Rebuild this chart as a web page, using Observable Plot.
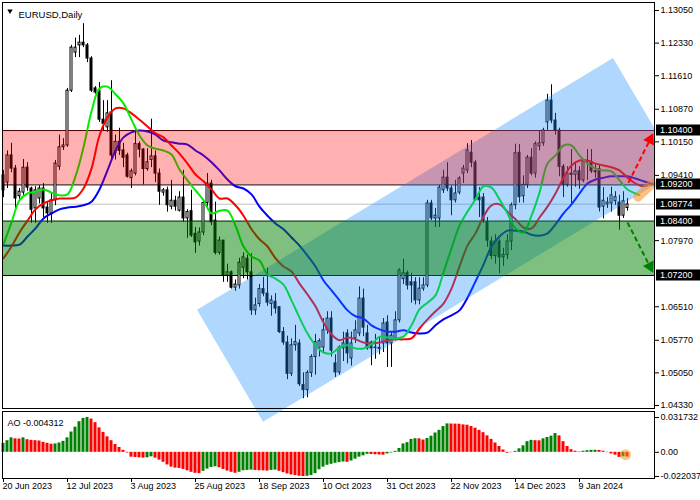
<!DOCTYPE html>
<html><head><meta charset="utf-8">
<script src="https://cdn.jsdelivr.net/npm/d3@7"></script>
<script src="https://cdn.jsdelivr.net/npm/@observablehq/plot@0.6"></script>
<style>
html,body{margin:0;padding:0;background:#fff;}
#wrap{position:relative;width:700px;height:500px;overflow:hidden;}
#ao{position:absolute;left:0;top:410px;}
#main{position:absolute;left:0;top:0;}
</style></head><body><div id="wrap"><div id="ao"></div><div id="main"></div></div>
<script>
// ---------- data ----------
const title = "EURUSD,Daily";
const aoLabel = "AO -0.004312";
const dateLabels = ["20 Jun 2023","12 Jul 2023","3 Aug 2023","25 Aug 2023","18 Sep 2023","10 Oct 2023","31 Oct 2023","22 Nov 2023","14 Dec 2023","9 Jan 2024"];
const dateIdx = [0,16,32,48,64,80,96,112,128,144];
const priceTicks = [1.1305,1.1233,1.1161,1.1087,1.1015,1.0941,1.0797,1.0651,1.0577,1.0505,1.0433];
const aoTicks = [0.031732, 0, -0.022037];

const opens = [
1.0941,1.0925,1.0985,1.0956,1.0895,1.0903,1.0958,1.0912,1.0868,1.0890,
1.0912,1.0870,1.0857,1.0886,1.0960,1.1003,1.1007,1.1128,1.1212,1.1228,
1.1234,1.1228,1.1199,1.1133,1.1128,1.1064,1.1047,1.1080,1.0990,1.1015,
1.0996,1.0985,1.0935,1.0945,1.1010,1.0998,1.0955,1.0975,1.0983,1.0945,
1.0903,1.0908,1.0872,1.0885,1.0863,1.0892,1.0846,1.0862,1.0812,1.0795,
1.0815,1.0880,1.0923,1.0841,1.0770,1.0797,1.0720,1.0727,1.0693,1.0698,
1.0737,1.0757,1.0727,1.0643,1.0657,1.0690,1.0680,1.0657,1.0662,1.0650,
1.0595,1.0572,1.0503,1.0566,1.0570,1.0478,1.0467,1.0505,1.0540,1.0560,
1.0561,1.0599,1.0625,1.0526,1.0506,1.0559,1.0592,1.0537,1.0581,1.0592,
1.0669,1.0592,1.0572,1.0560,1.0558,1.0570,1.0616,1.0570,1.0581,1.0621,
1.0712,1.0725,1.0705,1.0705,1.0665,1.0691,1.0698,1.0879,1.0846,1.0846,
1.0908,1.0936,1.0912,1.0886,1.0903,1.0945,1.0952,1.0991,1.0969,1.0892,
1.0892,1.0837,1.0795,1.0763,1.0795,1.0760,1.0765,1.0795,1.0875,1.0991,
1.0895,1.0920,1.0980,1.0945,1.1005,1.1012,1.1058,1.1106,1.1062,1.1040,
1.0960,1.0920,1.0945,1.0942,1.0950,1.0930,1.0972,1.0970,1.0950,1.0955,
1.0872,1.0877,1.0879,1.0884,1.0881,1.0852,1.0869];
const highs = [
1.0952,1.0995,1.1012,1.0963,1.0912,1.0976,1.0969,1.0915,1.0916,1.0918,
1.0923,1.0881,1.0901,1.0974,1.1030,1.1022,1.1133,1.1228,1.1244,1.1250,
1.1276,1.1232,1.1203,1.1137,1.1146,1.1106,1.1106,1.1150,1.1030,1.1045,
1.1012,1.0990,1.0955,1.1045,1.1015,1.1000,1.1000,1.1065,1.0995,1.0955,
1.0912,1.0915,1.0930,1.0895,1.0905,1.0952,1.0865,1.0908,1.0826,1.0825,
1.0888,1.0945,1.0930,1.0882,1.0805,1.0797,1.0745,1.0730,1.0710,1.0758,
1.0770,1.0765,1.0768,1.0670,1.0700,1.0716,1.0736,1.0675,1.0680,1.0650,
1.0605,1.0586,1.0580,1.0610,1.0578,1.0505,1.0510,1.0545,1.0590,1.0580,
1.0625,1.0640,1.0640,1.0545,1.0565,1.0595,1.0600,1.0595,1.0620,1.0695,
1.0690,1.0610,1.0575,1.0590,1.0585,1.0625,1.0631,1.0595,1.0640,1.0735,
1.0756,1.0730,1.0725,1.0715,1.0715,1.0715,1.0886,1.0886,1.0868,1.0919,
1.0952,1.0969,1.0918,1.0930,1.0938,1.0963,1.1011,1.1018,1.0974,1.0914,
1.0901,1.0848,1.0805,1.0810,1.0800,1.0780,1.0810,1.0880,1.1010,1.1009,
1.0940,1.0985,1.1000,1.1015,1.1040,1.1045,1.1120,1.1141,1.1078,1.1045,
1.0965,1.0960,1.0998,1.0970,1.0960,1.0975,1.0998,1.0998,1.0965,1.0965,
1.0914,1.0892,1.0915,1.0905,1.0897,1.0905,1.0890];
const lows = [
1.0892,1.0912,1.0947,1.0868,1.0888,1.0897,1.0906,1.0835,1.0835,1.0878,
1.0848,1.0835,1.0835,1.0874,1.0952,1.0996,1.1003,1.1124,1.1201,1.1201,
1.1223,1.1190,1.1124,1.1120,1.1058,1.1040,1.1036,1.0975,1.0975,1.0985,
1.0958,1.0935,1.0912,1.0940,1.0980,1.0920,1.0950,1.0958,1.0925,1.0875,
1.0895,1.0860,1.0865,1.0862,1.0860,1.0837,1.0802,1.0804,1.0769,1.0785,
1.0808,1.0865,1.0830,1.0765,1.0765,1.0705,1.0705,1.0690,1.0685,1.0690,
1.0713,1.0710,1.0632,1.0632,1.0650,1.0673,1.0652,1.0630,1.0635,1.0592,
1.0566,1.0490,1.0497,1.0553,1.0475,1.0448,1.0450,1.0495,1.0500,1.0540,
1.0550,1.0590,1.0540,1.0495,1.0500,1.0530,1.0525,1.0520,1.0570,1.0585,
1.0585,1.0555,1.0521,1.0535,1.0545,1.0550,1.0517,1.0517,1.0575,1.0615,
1.0700,1.0688,1.0659,1.0655,1.0655,1.0685,1.0693,1.0841,1.0826,1.0826,
1.0901,1.0905,1.0852,1.0880,1.0898,1.0923,1.0945,1.0958,1.0886,1.0848,
1.0835,1.0782,1.0755,1.0745,1.0724,1.0740,1.0755,1.0775,1.0865,1.0880,
1.0880,1.0912,1.0940,1.0935,1.0995,1.1005,1.1040,1.1055,1.1030,1.0938,
1.0892,1.0915,1.0876,1.0915,1.0910,1.0925,1.0930,1.0945,1.0935,1.0860,
1.0845,1.0868,1.0860,1.0875,1.0820,1.0846,1.0862];
const closes = [
1.0908,1.0985,1.0956,1.0890,1.0905,1.0958,1.0914,1.0865,1.0908,1.0912,
1.0868,1.0857,1.0886,1.0967,1.1003,1.1007,1.1128,1.1223,1.1223,1.1234,
1.1228,1.1199,1.1128,1.1124,1.1064,1.1055,1.1078,1.0985,1.1015,1.0995,
1.0980,1.0938,1.0950,1.1010,1.0998,1.0955,1.0970,1.0983,1.0945,1.0905,
1.0908,1.0875,1.0885,1.0872,1.0892,1.0846,1.0860,1.0808,1.0793,1.0815,
1.0880,1.0923,1.0837,1.0770,1.0797,1.0720,1.0727,1.0693,1.0700,1.0748,
1.0760,1.0727,1.0643,1.0654,1.0690,1.0680,1.0660,1.0665,1.0647,1.0595,
1.0572,1.0503,1.0566,1.0573,1.0480,1.0467,1.0505,1.0540,1.0573,1.0575,
1.0599,1.0625,1.0554,1.0506,1.0561,1.0570,1.0548,1.0570,1.0599,1.0669,
1.0605,1.0559,1.0559,1.0561,1.0560,1.0614,1.0570,1.0587,1.0621,1.0731,
1.0725,1.0698,1.0698,1.0665,1.0691,1.0698,1.0879,1.0846,1.0852,1.0914,
1.0936,1.0912,1.0886,1.0901,1.0934,1.0956,1.0996,1.0969,1.0886,1.0886,
1.0841,1.0797,1.0763,1.0795,1.0760,1.0765,1.0795,1.0875,1.0990,1.0893,
1.0920,1.0980,1.0945,1.1010,1.1012,1.1040,1.1106,1.1062,1.1040,1.0960,
1.0920,1.0945,1.0942,1.0950,1.0930,1.0972,1.0970,1.0950,1.0948,1.0870,
1.0885,1.0881,1.0897,1.0893,1.0852,1.0884,1.0877];

// Alligator lines (read every 2 bars)
const lipsIdx = d3.range(0, 160, 2).concat([159]);
const lipsVal = [
1.0789,1.0837,1.0886,1.0901,1.0905,1.0910,1.0903,1.0897,1.0899,1.0939,
1.1003,1.1082,1.1133,1.1137,1.1120,1.1100,1.1064,1.1029,1.1007,1.1000,
1.0996,1.0987,1.0954,1.0930,1.0908,1.0886,1.0857,1.0863,1.0863,1.0830,
1.0784,1.0762,1.0753,1.0722,1.0713,1.0700,1.0665,1.0627,1.0592,1.0566,
1.0550,1.0548,1.0561,1.0566,1.0559,1.0559,1.0568,1.0585,1.0583,1.0581,
1.0585,1.0610,1.0645,1.0660,1.0676,1.0727,1.0780,1.0830,1.0861,1.0888,
1.0917,1.0914,1.0888,1.0857,1.0824,1.0815,1.0852,1.0903,1.0967,1.0985,
1.1007,1.1007,1.0985,1.0967,1.0956,1.0952,1.0950,1.0930,1.0910,1.0901,
1.0897];
const teethIdx = d3.range(0, 162, 2).concat([161]);
const teethVal = [
1.0758,1.0784,1.0815,1.0841,1.0866,1.0879,1.0886,1.0890,1.0890,1.0892,
1.0912,1.0956,1.1029,1.1069,1.1089,1.1089,1.1078,1.1064,1.1049,1.1034,
1.1025,1.1007,1.0989,1.0967,1.0943,1.0928,1.0910,1.0890,1.0890,1.0875,
1.0852,1.0822,1.0800,1.0784,1.0758,1.0740,1.0729,1.0702,1.0678,1.0652,
1.0616,1.0590,1.0577,1.0583,1.0579,1.0572,1.0570,1.0572,1.0577,1.0579,
1.0579,1.0581,1.0603,1.0623,1.0641,1.0658,1.0691,1.0740,1.0786,1.0813,
1.0850,1.0875,1.0877,1.0861,1.0844,1.0826,1.0824,1.0848,1.0872,1.0901,
1.0936,1.0963,1.0974,1.0974,1.0967,1.0963,1.0959,1.0952,1.0936,1.0923,
1.0917,1.0919];
const jawIdx = d3.range(0, 166, 2);
const jawVal = [
1.0786,1.0786,1.0788,1.0806,1.0824,1.0846,1.0857,1.0866,1.0870,1.0872,
1.0875,1.0883,1.0910,1.0952,1.0996,1.1025,1.1036,1.1040,1.1038,1.1031,
1.1018,1.1014,1.1011,1.1009,1.0996,1.0985,1.0970,1.0952,1.0932,1.0917,
1.0912,1.0899,1.0872,1.0852,1.0835,1.0822,1.0804,1.0786,1.0764,1.0740,
1.0709,1.0687,1.0665,1.0643,1.0630,1.0625,1.0610,1.0601,1.0596,1.0596,
1.0599,1.0594,1.0592,1.0594,1.0610,1.0623,1.0632,1.0643,1.0671,1.0707,
1.0744,1.0784,1.0806,1.0819,1.0819,1.0817,1.0810,1.0808,1.0813,1.0833,
1.0857,1.0877,1.0901,1.0923,1.0932,1.0936,1.0939,1.0939,1.0939,1.0934,
1.0928,1.0923,1.0919];

// Awesome Oscillator
const aoVals = [
0.0082,0.0106,0.0132,0.0123,0.0121,0.0132,0.0115,0.0109,0.0106,0.0103,
0.0091,0.0082,0.0074,0.0076,0.0085,0.0100,0.0132,0.0185,0.0229,0.0279,
0.0309,0.031732,0.0303,0.0270,0.0223,0.0182,0.0141,0.0106,0.0071,0.0044,
0.0018,-0.0006,-0.0044,-0.0047,-0.0050,-0.0053,-0.0050,-0.0041,-0.0053,-0.0071,
-0.0091,-0.0115,-0.0135,-0.0144,-0.0147,-0.0156,-0.0168,-0.0182,-0.0191,-0.0194,
-0.0173,-0.0153,-0.0138,-0.0132,-0.0141,-0.0156,-0.0171,-0.0182,-0.0191,-0.0182,
-0.0168,-0.0165,-0.0162,-0.0165,-0.0168,-0.0169,-0.0171,-0.0165,-0.0162,-0.0173,
-0.0185,-0.0197,-0.0206,-0.0212,-0.0218,-0.022037,-0.0218,-0.0212,-0.0194,-0.0159,
-0.0135,-0.0118,-0.0109,-0.0100,-0.0094,-0.0088,-0.0091,-0.0079,-0.0062,-0.0044,
-0.0032,-0.0018,-0.0020,-0.0022,-0.0024,-0.0026,-0.0015,-0.0006,0.0009,0.0035,
0.0076,0.0088,0.0118,0.0124,0.0123,0.0112,0.0126,0.0147,0.0176,0.0200,
0.0235,0.0259,0.0258,0.0257,0.0256,0.0250,0.0247,0.0235,0.0220,0.0200,
0.0179,0.0150,0.0118,0.0085,0.0053,0.0021,-0.0008,-0.0003,0.0009,0.0032,
0.0059,0.0097,0.0109,0.0106,0.0105,0.0123,0.0135,0.0147,0.0171,0.0150,
0.0097,0.0053,0.0024,0.0010,0.0004,0.0010,0.0015,0.0018,0.0019,0.0017,
0.0010,-0.0003,-0.0015,-0.0026,-0.0046,-0.0041,-0.004312];

// levels and drawing objects (bar index, price)
const levels = [1.1040, 1.0920, 1.0840, 1.0720];
const bidPrice = 1.08774;
const resistLo = 1.0920, resistHi = 1.1040;
const supportLo = 1.0720, supportHi = 1.0840;
const boxLevels = [1.1040, 1.0920, 1.08774, 1.0840, 1.0720];
const channelIdx = [48.5, 65, 152.5, 169];
const channelUpper = [1.0643, 1.0731, 1.1199, 1.0952];
const channelLower = [1.0643, 1.0396, 1.0863, 1.0952];
const upArrowIdx = [156.25, 161.65], upArrowPrice = [1.0925, 1.1020];
const downArrowIdx = [156, 161.6], downArrowPrice = [1.0837, 1.0740];
const markIdx = [158.6, 162.1], markPrice = [1.0893, 1.0922];
const aoMarkIdx = 155.5, aoMarkVal = -0.0022;

const xDomain = [0, 156];
const priceDomain = [1.0433, 1.1305];
const aoDomain = [-0.022037, 0.031732];

// ---------- derived tables ----------
const candles = opens.map((o, i) => ({i, o, h: highs[i], l: lows[i], c: closes[i]}));
const upC = candles.filter(d => d.c >= d.o), dnC = candles.filter(d => d.c < d.o);
const pts = (idx, val) => val.map((v, k) => ({i: idx[k], v}));
const lips = pts(lipsIdx, lipsVal), teeth = pts(teethIdx, teethVal), jaw = pts(jawIdx, jawVal);
const chan = channelIdx.map((i, k) => ({i, hi: channelUpper[k], lo: channelLower[k]}));
const ao = aoVals.map((v, i) => ({i, v, up: i === 0 ? true : v > aoVals[i - 1]}));

const font = "'Liberation Sans', Arial, sans-serif";

function priceBoxes(index, scales, values, dimensions) {
  const y = scales.y;
  const x0 = dimensions.width - dimensions.marginRight;
  const g = d3.create("svg:g");
  boxLevels.forEach(v => {
    const yy = Math.round(y(v));
    g.append("rect").attr("x", x0 + 2).attr("y", yy - 5.5).attr("width", 46).attr("height", 11).attr("fill", "black");
    g.append("text").attr("x", x0 + 6).attr("y", yy).attr("dy", "0.34em").attr("fill", "white")
      .attr("text-anchor", "start").attr("font-size", 9).attr("font-family", font).text(v.toFixed(5));
  });
  return g.node();
}

const main = Plot.plot({
  width: 700, height: 425,
  marginTop: 2, marginLeft: 2, marginRight: 46, marginBottom: 17,
  style: {background: "transparent", fontFamily: font, fontSize: "9px", color: "black"},
  x: {domain: xDomain, insetLeft: 1, insetRight: 27, axis: null},
  y: {domain: priceDomain, insetTop: 8, insetBottom: 3, axis: "right", ticks: priceTicks,
      tickFormat: d => d.toFixed(5), tickSize: 4, tickPadding: 2, label: null},
  marks: [
    Plot.ruleY(levels, {stroke: "black"}),
    Plot.ruleY([bidPrice], {stroke: "#c0c0c0"}),
    Plot.ruleX(candles, {x: "i", y1: "l", y2: "h", stroke: "black"}),
    Plot.rect(upC, {x1: d => d.i - 0.25, x2: d => d.i + 0.25, y1: "o", y2: "c", fill: "white", stroke: "black"}),
    Plot.rect(dnC, {x1: d => d.i - 0.25, x2: d => d.i + 0.25, y1: "o", y2: "c", fill: "black", stroke: "black"}),
    Plot.line(jaw, {x: "i", y: "v", stroke: "#0000ff", strokeWidth: 2, curve: "catmull-rom", clip: true}),
    Plot.line(teeth, {x: "i", y: "v", stroke: "#ff0000", strokeWidth: 2, curve: "catmull-rom", clip: true}),
    Plot.line(lips, {x: "i", y: "v", stroke: "#00ee00", strokeWidth: 2, curve: "catmull-rom", clip: true}),
    Plot.areaY(chan, {x: "i", y1: "lo", y2: "hi", fill: "#1e90ff", fillOpacity: 0.35}),
    Plot.rect([{lo: resistLo, hi: resistHi}], {y1: "lo", y2: "hi", fill: "#ff0000", fillOpacity: 0.31}),
    Plot.rect([{lo: supportLo, hi: supportHi}], {y1: "lo", y2: "hi", fill: "#008000", fillOpacity: 0.5}),
    Plot.link([0], {x1: markIdx[0], y1: markPrice[0], x2: markIdx[1], y2: markPrice[1],
      stroke: "#ff8c1a", strokeOpacity: 0.55, strokeWidth: 9, strokeLinecap: "round"}),
    Plot.link([0], {x1: upArrowIdx[0], y1: upArrowPrice[0], x2: upArrowIdx[1], y2: upArrowPrice[1],
      stroke: "#ff0000", strokeWidth: 2, strokeDasharray: "5,3"}),
    Plot.dot([0], {x: upArrowIdx[1], y: upArrowPrice[1], symbol: "triangle", r: 4.5, fill: "#ff0000", stroke: "none", rotate: 26}),
    Plot.link([0], {x1: downArrowIdx[0], y1: downArrowPrice[0], x2: downArrowIdx[1], y2: downArrowPrice[1],
      stroke: "#008000", strokeWidth: 2, strokeDasharray: "5,3"}),
    Plot.dot([0], {x: downArrowIdx[1], y: downArrowPrice[1], symbol: "triangle", r: 4.5, fill: "#008000", stroke: "none", rotate: 153}),
    Plot.frame({stroke: "black"}),
    Plot.text([title], {frameAnchor: "top-left", dx: 16, dy: 9, textAnchor: "start", fontSize: 9.5, fill: "black"}),
    Plot.dot([0], {frameAnchor: "top-left", dx: 7.5, dy: 8.5, symbol: "triangle", r: 2, rotate: 180, fill: "black", stroke: "none"}),
    priceBoxes
  ]
});
// clip the channel at the right price scale edge (it may overhang the bottom)
{
  const svg = d3.select(main);
  svg.insert("defs", ":first-child").append("clipPath").attr("id", "chanclip")
    .append("rect").attr("x", 0).attr("y", 0).attr("width", 700 - 46).attr("height", 425);
  const area = main.querySelector('g[aria-label="area"]');
  if (area) area.setAttribute("clip-path", "url(#chanclip)");
}

const aoPlot = Plot.plot({
  width: 700, height: 90,
  marginTop: 1, marginBottom: 22, marginLeft: 2, marginRight: 46,
  style: {background: "white", fontFamily: font, fontSize: "9px", color: "black"},
  x: {domain: xDomain, insetLeft: 1, insetRight: 27, ticks: dateIdx, tickFormat: () => "", tickSize: 4, label: null},
  y: {domain: aoDomain, insetTop: 6, insetBottom: 2, axis: "right", ticks: aoTicks,
      tickFormat: d => d === 0 ? "0.00" : d.toFixed(6), tickSize: 4, tickPadding: 2, label: null},
  marks: [
    Plot.rect(ao.filter(d => d.up), {x1: d => d.i - 0.375, x2: d => d.i + 0.375, y1: 0, y2: "v", fill: "#008000"}),
    Plot.rect(ao.filter(d => !d.up), {x1: d => d.i - 0.375, x2: d => d.i + 0.375, y1: 0, y2: "v", fill: "#ff0000"}),
    Plot.dot([0], {x: aoMarkIdx, y: aoMarkVal, r: 5.5, fill: "#ff8c1a", fillOpacity: 0.5, stroke: "none"}),
    Plot.frame({stroke: "black"}),
    Plot.text([aoLabel], {frameAnchor: "top-left", dx: 5, dy: 8, textAnchor: "start", fill: "black"}),
    Plot.text(dateLabels, {x: (d, k) => dateIdx[k], frameAnchor: "bottom", dy: 10, dx: -1, textAnchor: "start", fill: "black"})
  ]
});

document.getElementById("ao").appendChild(aoPlot);
document.getElementById("main").appendChild(main);
</script></body></html>
